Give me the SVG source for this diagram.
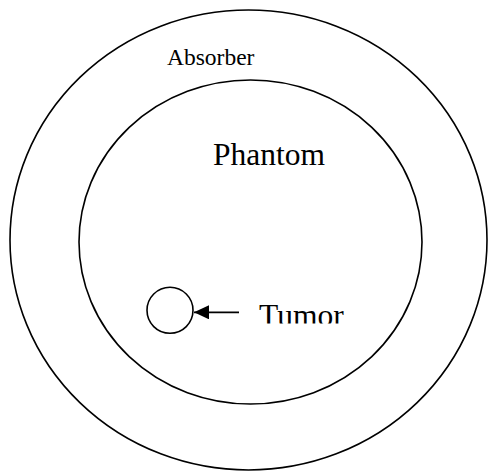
<svg xmlns="http://www.w3.org/2000/svg" width="488" height="471" viewBox="0 0 488 471">
<style>
.ring{fill:none;stroke:#000;stroke-width:1.6}
.lbl{font-family:"Liberation Serif","Times New Roman",serif;fill:#000}
.conn{stroke:#000;stroke-width:1.8;fill:none}
</style>
<defs>
<marker id="ah" markerWidth="15" markerHeight="14" refX="15" refY="7" orient="auto" markerUnits="userSpaceOnUse">
<path d="M0,0 L15,7 L0,14 Z" fill="#000"/>
</marker>
<clipPath id="tclip"><rect x="0" y="0" width="488" height="323.5"/></clipPath>
</defs>
<rect width="488" height="471" fill="#fff"/>
<g id="absorber">
<ellipse class="ring" cx="248.5" cy="240" rx="238.5" ry="230"/>
<text class="lbl" x="167" y="65" font-size="23.5">Absorber</text>
</g>
<g id="phantom">
<ellipse class="ring" cx="250.5" cy="242" rx="171.5" ry="162"/>
<text class="lbl" x="213" y="165" font-size="31.5">Phantom</text>
</g>
<g id="tumor">
<circle class="ring" cx="170" cy="310.3" r="23"/>
<text class="lbl" x="259" y="326" font-size="31.5" clip-path="url(#tclip)">Tumor</text>
</g>
<g id="connectors">
<line class="conn" x1="239" y1="312.3" x2="194" y2="312.3" marker-end="url(#ah)"/>
</g>
</svg>
